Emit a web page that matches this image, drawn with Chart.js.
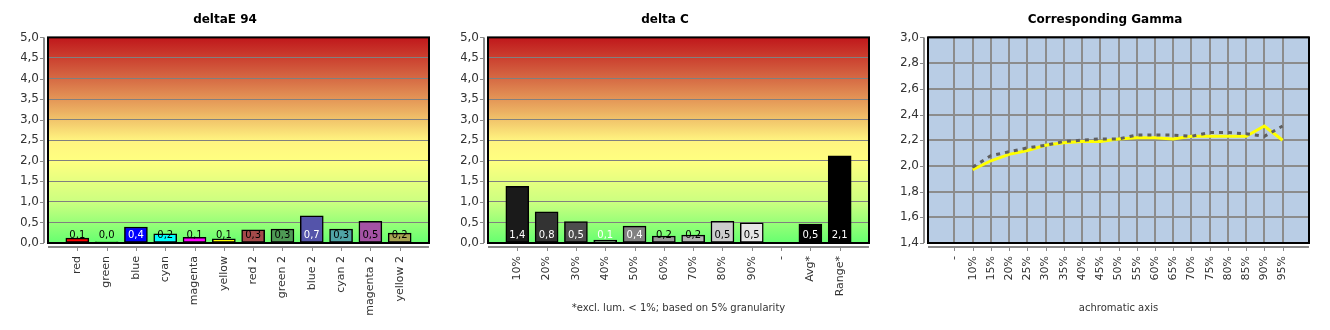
<!DOCTYPE html>
<html>
<head>
<meta charset="utf-8">
<script src="https://cdn.jsdelivr.net/npm/chart.js@4.4.1/dist/chart.umd.min.js"></script>
<style>
    html, body { margin: 0; padding: 0; background: #fff; }
    .panel { position: absolute; top: 0; width: 450px; height: 330px; }
</style>
</head>
<body>
<div class="panel" style="left: 0"><canvas id="deltae-chart" width="450" height="330"></canvas></div>
<div class="panel" style="left: 440px"><canvas id="deltac-chart" width="450" height="330"></canvas></div>
<div class="panel" style="left: 880px"><canvas id="gamma-chart" width="450" height="330"></canvas></div>
<script>
const deltaECategories = ['red', 'green', 'blue', 'cyan', 'magenta', 'yellow', 'red 2', 'green 2', 'blue 2', 'cyan 2', 'magenta 2', 'yellow 2'];
const deltaEValues = [0.12, 0.03, 0.39, 0.22, 0.14, 0.10, 0.32, 0.34, 0.66, 0.34, 0.53, 0.24];

const deltaCCategories = ['10%', '20%', '30%', '40%', '50%', '60%', '70%', '80%', '90%', '-', 'Avg*', 'Range*'];
const deltaCValues = [1.38, 0.76, 0.52, 0.07, 0.41, 0.17, 0.19, 0.53, 0.49, null, 0.46, 2.12];

const gammaCategories = ['-', '10%', '15%', '20%', '25%', '30%', '35%', '40%', '45%', '50%', '55%', '60%', '65%', '70%', '75%', '80%', '85%', '90%', '95%'];
const gammaMeasured = [null, 1.97, 2.04, 2.09, 2.12, 2.16, 2.18, 2.19, 2.19, 2.21, 2.22, 2.22, 2.21, 2.23, 2.23, 2.23, 2.23, 2.31, 2.20];
const gammaReference = [null, 1.99, 2.08, 2.11, 2.14, 2.16, 2.19, 2.20, 2.21, 2.21, 2.24, 2.24, 2.24, 2.23, 2.26, 2.26, 2.25, 2.23, 2.31];

const deltaTicks = { min: 0, max: 5, step: 0.5 };
const gammaTicks = { min: 1.4, max: 3.0, step: 0.2 };

// styles
const deltaEColors = ['#ff0000', '#00ff00', '#0000ff', '#00ffff', '#ff00ff', '#ffff00', '#a44a4a', '#4f9a55', '#5454aa', '#50a4a6', '#a452a4', '#a8a452'];
const deltaELabelColors = ['#000', '#000', '#fff', '#000', '#000', '#000', '#000', '#000', '#fff', '#000', '#000', '#000'];
const deltaCColors = ['#1a1a1a', '#333333', '#4d4d4d', '#666666', '#808080', '#999999', '#b3b3b3', '#cccccc', '#e6e6e6', '#000000', '#000000', '#000000'];
const deltaCLabelColors = ['#fff', '#fff', '#fff', '#fff', '#fff', '#000', '#000', '#000', '#000', '#fff', '#fff', '#fff'];

const FONT = '"DejaVu Sans", Verdana, sans-serif';
const tickFont = { family: FONT, size: 11 };
const valueFont = { family: FONT, size: 12 };
const noteFont = { family: FONT, size: 10 };
const fmt = (v) => Number(v).toFixed(1).replace('.', ',');

const noPadding = (s) => {
    s.paddingLeft = 0;
    s.paddingRight = 0;
    s.paddingTop = 0;
    s.paddingBottom = 0;
};

const framePlugin = {
    id: 'frame',
    beforeDraw(chart, args, opts) {
        const { ctx, chartArea: a } = chart;
        ctx.save();
        if (opts.gradient) {
            const g = ctx.createLinearGradient(0, a.top, 0, a.bottom);
            g.addColorStop(0, '#c0171b');
            g.addColorStop(0.2, '#d66a44');
            g.addColorStop(0.36, '#ecb062');
            g.addColorStop(0.5, '#fff480');
            g.addColorStop(0.6, '#ffff80');
            g.addColorStop(0.8, '#ccff80');
            g.addColorStop(1, '#66ff70');
            ctx.fillStyle = g;
        } else {
            ctx.fillStyle = opts.background;
        }
        ctx.fillRect(a.left, a.top, a.right - a.left, a.bottom - a.top);
        ctx.restore();
    },
    afterDatasetsDraw(chart, args, opts) {
        if (!opts.labelColors) {
            return;
        }
        const { ctx, chartArea: a } = chart;
        const meta = chart.getDatasetMeta(0);
        const values = chart.data.datasets[0].data;
        ctx.save();
        ctx.font = `10px ${FONT}`;
        ctx.textAlign = 'center';
        ctx.textBaseline = 'middle';
        meta.data.forEach((bar, i) => {
            if (values[i] === null) {
                return;
            }
            ctx.fillStyle = opts.labelColors[i - 1];
            ctx.fillText(fmt(values[i]), bar.x, a.bottom - 8);
        });
        ctx.restore();
    },
    afterDraw(chart) {
        const { ctx, chartArea: a } = chart;
        const xs = chart.scales.x;
        const ys = chart.scales.y;
        ctx.save();
        ctx.strokeStyle = '#000';
        ctx.lineWidth = 2;
        ctx.strokeRect(a.left, a.top, a.right - a.left, a.bottom - a.top);

        ctx.strokeStyle = '#8a8a8a';
        ctx.lineWidth = 2;
        ctx.beginPath();
        ctx.moveTo(a.left - 4, a.top);
        ctx.lineTo(a.left - 4, a.bottom);
        ctx.moveTo(a.left, a.bottom + 4);
        ctx.lineTo(a.right, a.bottom + 4);
        ctx.stroke();

        ctx.lineWidth = 1;
        ctx.beginPath();
        ys.ticks.forEach((t) => {
            const py = Math.round(ys.getPixelForValue(t.value)) + 0.5;
            ctx.moveTo(a.left - 8, py);
            ctx.lineTo(a.left - 4, py);
        });
        xs.ticks.forEach((t, i) => {
            if (!xs.getLabels || xs.getLabels()[t.value] !== '') {
                const px = Math.round(xs.getPixelForTick(i)) + 0.5;
                ctx.moveTo(px, a.bottom + 4);
                ctx.lineTo(px, a.bottom + 8);
            }
        });
        ctx.stroke();
        ctx.restore();
    },
};

const xTitle = (text) => ({
    display: !!text,
    text: text || '',
    color: '#333',
    font: noteFont,
    padding: { top: 0, bottom: 16 },
});

const baseOptions = (title) => ({
    responsive: false,
    animation: false,
    layout: { padding: { left: 21, right: 21, top: 0, bottom: 0 } },
    plugins: {
        legend: { display: false },
        tooltip: { enabled: false },
        title: {
            display: true,
            text: title,
            color: '#000',
            font: { family: FONT, size: 12, weight: 'bold' },
            padding: { top: 13, bottom: 10 },
        },
    },
});

const makeBarChart = (id, title, categories, values, colors, labelColors, note) => {
    const options = baseOptions(title);
    options.plugins.frame = { gradient: true, labelColors };
    options.scales = {
        x: {
            type: 'category',
            offset: false,
            grid: { display: false, drawTicks: false },
            border: { display: false },
            ticks: { autoSkip: false, minRotation: 90, maxRotation: 90, padding: 13, color: '#333', font: tickFont },
            title: xTitle(note),
            afterFit: (s) => { s.height = 87; noPadding(s); },
        },
        y: {
            min: deltaTicks.min,
            max: deltaTicks.max,
            grid: { color: '#808080', drawTicks: false },
            border: { display: false },
            ticks: { stepSize: deltaTicks.step, padding: 9, color: '#333', font: valueFont, callback: (v) => fmt(v) },
            afterFit: (s) => { s.width = 27; noPadding(s); },
        },
    };

    return new Chart(document.getElementById(id), {
        type: 'bar',
        data: {
            labels: ['', ...categories, ''],
            datasets: [{
                data: [null, ...values, null],
                backgroundColor: ['transparent', ...colors, 'transparent'],
                borderColor: '#000',
                borderWidth: 1.5,
                borderSkipped: false,
                barThickness: 23,
            }],
        },
        options,
        plugins: [framePlugin],
    });
};

makeBarChart('deltae-chart', 'deltaE 94', deltaECategories, deltaEValues, deltaEColors, deltaELabelColors, null);
makeBarChart('deltac-chart', 'delta C', deltaCCategories, deltaCValues, deltaCColors, deltaCLabelColors, '*excl. lum. < 1%; based on 5% granularity');

const gammaOptions = baseOptions('Corresponding Gamma');
gammaOptions.plugins.frame = { background: '#b9cde5' };
gammaOptions.scales = {
    x: {
        type: 'linear',
        min: -1.45,
        max: 19.45,
        afterBuildTicks: (s) => { s.ticks = gammaCategories.map((_, i) => ({ value: i })); },
        grid: { color: '#8c8c8c', lineWidth: 2, drawTicks: false },
        border: { display: false },
        ticks: {
            autoSkip: false,
            minRotation: 90,
            maxRotation: 90,
            padding: 13,
            color: '#333',
            font: tickFont,
            callback: (v) => gammaCategories[v] ?? '',
        },
        title: xTitle('achromatic axis'),
        afterFit: (s) => { s.height = 87; noPadding(s); },
    },
    y: {
        min: gammaTicks.min,
        max: gammaTicks.max,
        grid: { color: '#8c8c8c', lineWidth: 2, drawTicks: false },
        border: { display: false },
        ticks: { stepSize: gammaTicks.step, padding: 9, color: '#333', font: valueFont, callback: (v) => fmt(v) },
        afterFit: (s) => { s.width = 27; noPadding(s); },
    },
};

new Chart(document.getElementById('gamma-chart'), {
    type: 'line',
    data: {
        datasets: [
            {
                label: 'reference',
                data: gammaReference.map((v, i) => ({ x: i, y: v })),
                borderColor: '#5f5f5f',
                borderWidth: 3,
                borderDash: [4, 5],
                pointRadius: 0,
                tension: 0,
            },
            {
                label: 'measured',
                data: gammaMeasured.map((v, i) => ({ x: i, y: v })),
                borderColor: '#ffff00',
                borderWidth: 3,
                pointRadius: 0,
                tension: 0,
            },
        ],
    },
    options: gammaOptions,
    plugins: [framePlugin],
});
</script>
</body>
</html>
